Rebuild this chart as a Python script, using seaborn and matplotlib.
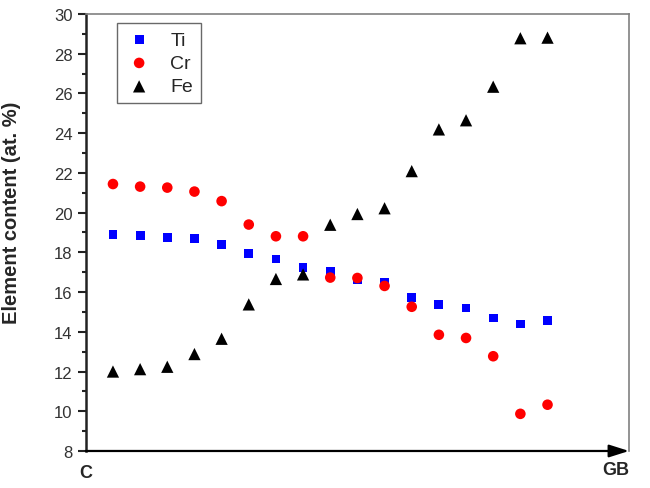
import matplotlib
matplotlib.use("Agg")
import matplotlib.pyplot as plt
import numpy as np
import pandas as pd
import seaborn as sns
from matplotlib.ticker import MultipleLocator

# positions from core (C) to grain boundary (GB)
position = list(range(1, 18))
ti = [18.90, 18.86, 18.75, 18.70, 18.38, 17.94, 17.67, 17.24, 17.02, 16.63, 16.49,
      15.74, 15.36, 15.20, 14.69, 14.39, 14.58]
cr = [21.44, 21.31, 21.26, 21.06, 20.58, 19.40, 18.81, 18.81, 16.73, 16.71, 16.31,
      15.26, 13.85, 13.69, 12.77, 9.87, 10.33]
fe = [12.00, 12.12, 12.24, 12.88, 13.65, 15.38, 16.66, 16.89, 19.39, 19.93, 20.22,
      22.09, 24.19, 24.65, 26.34, 28.78, 28.81]

df = pd.DataFrame({"pos": position, "Ti": ti, "Cr": cr, "Fe": fe})

sns.set_style("ticks")
plt.rcParams["font.family"] = ["Liberation Sans", "DejaVu Sans"]

fig = plt.figure(figsize=(6.5, 4.89), dpi=100)
ax = fig.add_axes([0.132, 0.0757, 0.8357, 0.8936])

sns.scatterplot(data=df, x="pos", y="Ti", ax=ax, marker="s", s=40, color="#0000ff",
                edgecolor="none", label="Ti", zorder=3)
sns.scatterplot(data=df, x="pos", y="Cr", ax=ax, marker="o", s=58, color="#ff0000",
                edgecolor="none", label="Cr", zorder=4)
sns.scatterplot(data=df, x="pos", y="Fe", ax=ax, marker="^", s=78, color="black",
                edgecolor="none", label="Fe", zorder=5)

ax.set_xlim(0, 20)
ax.set_ylim(8, 30)
ax.yaxis.set_major_locator(MultipleLocator(2))
ax.yaxis.set_minor_locator(MultipleLocator(1))
ax.set_xticks([])
ax.set_xlabel("")
ax.tick_params(axis="y", which="major", length=6, width=1.5, color="#222222",
               labelsize=12, labelcolor="#333333", pad=3.5, direction="out")
ax.tick_params(axis="y", which="minor", length=3, width=1.5, color="#222222", direction="out")

ax.set_ylabel("Element content (at. %)", fontsize=14.5, fontweight="bold")
ax.yaxis.set_label_coords(-0.12, 0.547)

for side in ["top", "right"]:
    ax.spines[side].set_visible(True)
    ax.spines[side].set_color("#808080")
    ax.spines[side].set_linewidth(1.2)
ax.spines["left"].set_color("#222222")
ax.spines["left"].set_linewidth(1.8)
ax.spines["bottom"].set_visible(False)

# bottom axis drawn as an arrow C -> GB
ax.annotate("", xy=(1.0, 0), xytext=(0, 0), xycoords="axes fraction",
            textcoords="axes fraction",
            arrowprops=dict(arrowstyle="-|>,head_length=1.2,head_width=0.38",
                            color="black", lw=1.6, shrinkA=0, shrinkB=0),
            annotation_clip=False, zorder=6)

ax.text(0, -0.05, "C", transform=ax.transAxes, ha="center", va="center",
        fontsize=13, fontweight="bold")
ax.text(1.0, -0.043, "GB", transform=ax.transAxes, ha="right", va="center",
        fontsize=13, fontweight="bold")

leg = ax.legend(loc="upper left", bbox_to_anchor=(0.057, 0.979), borderaxespad=0,
                fontsize=14, frameon=True, fancybox=False, handletextpad=0.85,
                labelspacing=0.3, borderpad=0.4, handlelength=1.5)
leg.get_frame().set_edgecolor("#444444")
leg.get_frame().set_linewidth(1.0)

fig.savefig("out.png", dpi=100)
